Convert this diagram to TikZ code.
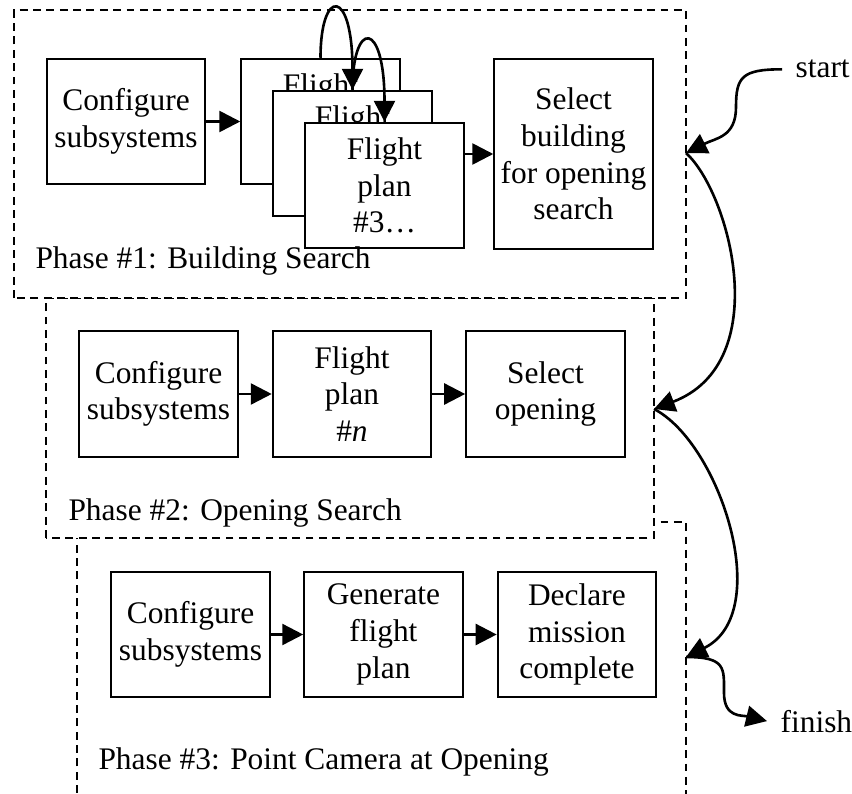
\documentclass[tikz,border=0pt]{standalone}
\usepackage{fontspec}
\setmainfont{Liberation Serif}
\usetikzlibrary{arrows.meta,positioning}

\begin{document}
\begin{tikzpicture}[x=0.382pt,y=0.382pt,
    stage/.style={draw,line width=0.8pt,fill=white,align=center,inner sep=0pt,
      minimum width=60.5pt,minimum height=47.9pt,font=\fontsize{12}{14}\selectfont},
    phase/.style={draw,line width=0.7pt,dash pattern=on 3pt off 2.1pt},
    phaselabel/.style={anchor=base west,inner sep=0pt,font=\fontsize{12}{14}\selectfont},
    endlabel/.style={anchor=base west,inner xsep=5pt,inner ysep=0pt,font=\fontsize{12}{14}\selectfont},
    flow/.style={line width=1pt,-{Triangle[length=8pt,width=8pt]}}]
  \useasboundingbox (0,0) rectangle (852,793);
  \clip (0,0) rectangle (852,793);
  \draw[phase] (77,-40) rectangle (686,271);
  \draw[phase,fill=white] (46,255) rectangle (654,495);
  \draw[phase,fill=white] (14,495) rectangle (686,783);
  \begin{scope}
    \node[stage] (conf1) at (126,671.5) {Configure\\subsystems};
    \node[stage,right=13pt of conf1] (fp1) {Flight\\plan\\\#1};
    \node[stage] (fp2) at ([shift={(32,-32)}]fp1) {Flight\\plan\\\#2};
    \node[stage] (fp3) at ([shift={(32,-32)}]fp2) {Flight\\plan\\\#3…};
    \node[stage,minimum height=72.4pt] (selb) at (573.5,639) {Select\\building\\for opening\\search};
    \node[phaselabel] (lab1) at (35,525) {Phase \#1: Building Search};
    \draw[flow] (conf1) -- (fp1);
    \draw[flow] (fp3.east |- selb) -- (selb);
    \draw[flow] (fp1.north) .. controls +(0,70) and +(0,103) .. (fp2.north);
    \draw[flow] (fp2.north) .. controls +(0,70) and +(0,103) .. (fp3.north);
    \coordinate (p1in) at (686,640);
  \end{scope}
  \begin{scope}
    \node[stage] (conf2) at (158.5,399) {Configure\\subsystems};
    \node[stage,right=12.6pt of conf2] (fpn) {Flight\\plan\\\#\textit{n}};
    \node[stage,right=12.6pt of fpn] (selo) {Select\\opening};
    \node[phaselabel] (lab2) at (68,273) {Phase \#2: Opening Search};
    \draw[flow] (conf2) -- (fpn);
    \draw[flow] (fpn) -- (selo);
    \coordinate (p2in) at (654,384);
  \end{scope}
  \begin{scope}
    \node[stage] (conf3) at (190.5,158.5) {Configure\\subsystems};
    \node[stage,right=12.4pt of conf3] (gen) {Generate\\flight\\plan};
    \node[stage,right=12.6pt of gen] (decl) {Declare\\mission\\complete};
    \node[phaselabel] (lab3) at (98,24) {Phase \#3: Point Camera at Opening};
    \draw[flow] (conf3) -- (gen);
    \draw[flow] (gen) -- (decl);
    \coordinate (p3in) at (686,136);
  \end{scope}
  \node[endlabel] (start) at (782,715) {start};
  \node[endlabel] (finish) at (767,61) {finish};
  \draw[flow] (start.west) .. controls +(-40,0) and +(0,30) .. (736,686)
    .. controls +(0,-30) and +(30,15) .. (p1in);
  \draw[flow] (p1in) .. controls +(44,-40) and +(121,46) .. (p2in);
  \draw[flow] (p2in) .. controls +(66,-34) and +(89,44) .. (p3in);
  \draw[flow] (p3in) .. controls +(40,0) and +(0,25) .. (724,100)
    .. controls +(0,-25) and +(-25,6) .. (finish.west);
\end{tikzpicture}
\end{document}
